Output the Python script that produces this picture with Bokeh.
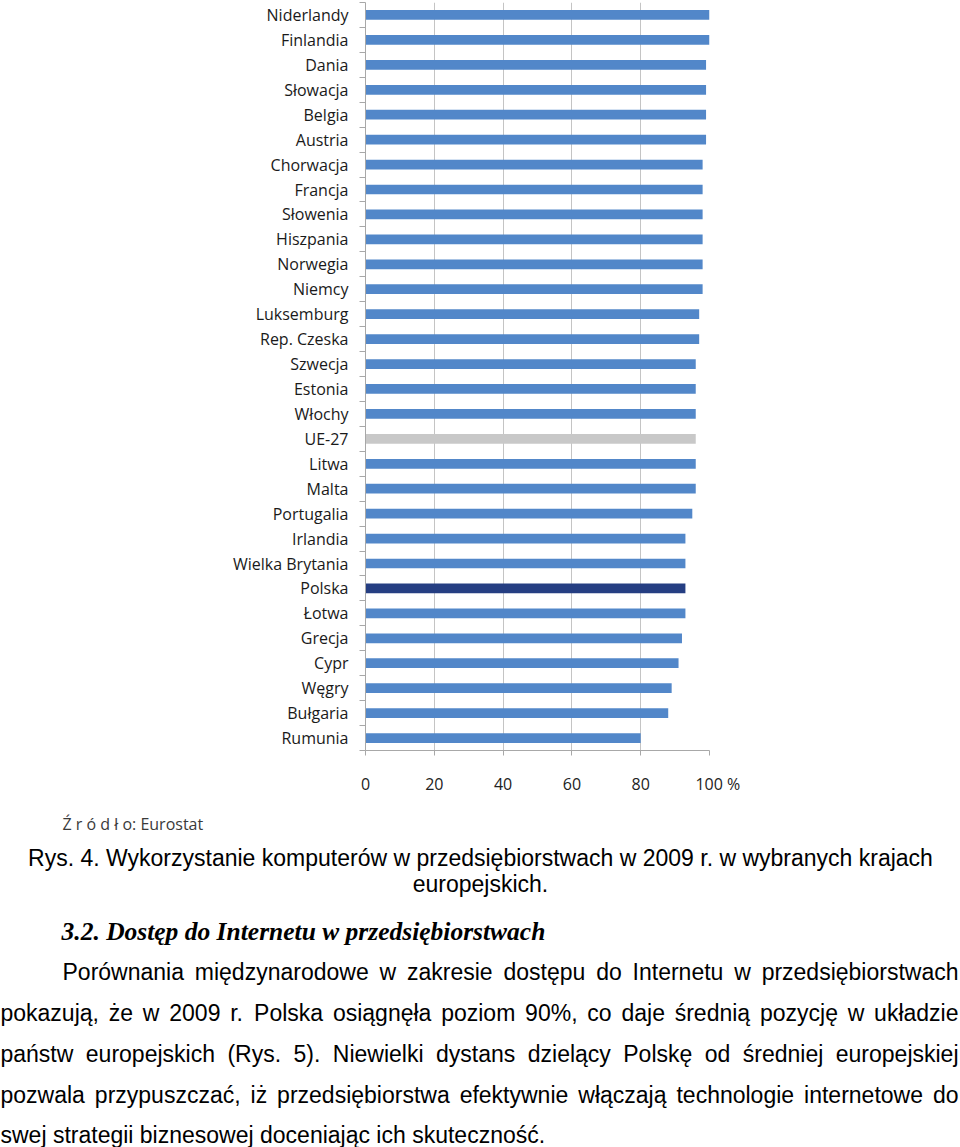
from bokeh.plotting import figure
from bokeh.models import ColumnDataSource, Range1d, FixedTicker, Label
from bokeh.layouts import column
from bokeh.embed import file_html
from bokeh.resources import INLINE
from bokeh.core.properties import value

# ---------------- data ----------------
countries = ["Niderlandy", "Finlandia", "Dania", "Słowacja", "Belgia", "Austria",
             "Chorwacja", "Francja", "Słowenia", "Hiszpania", "Norwegia", "Niemcy",
             "Luksemburg", "Rep. Czeska", "Szwecja", "Estonia", "Włochy", "UE-27",
             "Litwa", "Malta", "Portugalia", "Irlandia", "Wielka Brytania", "Polska",
             "Łotwa", "Grecja", "Cypr", "Węgry", "Bułgaria", "Rumunia"]
values = [100, 100, 99, 99, 99, 99,
          98, 98, 98, 98, 98, 98,
          97, 97, 96, 96, 96, 96,
          96, 96, 95, 93, 93, 93,
          93, 92, 91, 89, 88, 80]
x_ticks = [0, 20, 40, 60, 80, 100]
x_tick_labels = {0: "0", 20: "20", 40: "40", 60: "60", 80: "80",
                 100: "\u00a0\u00a0\u00a0\u00a0100\u00a0%"}
highlight = {"UE-27": "#C8C8C8", "Polska": "#253E82"}
base_color = "#5287C9"

source_text = "Ź r ó d ł o: Eurostat"
caption_lines = ["Rys. 4. Wykorzystanie komputerów w przedsiębiorstwach w 2009 r. w wybranych krajach",
                 "europejskich."]
heading = "3.2. Dostęp do Internetu w przedsiębiorstwach"
paragraph_lines = [
    "Porównania międzynarodowe w zakresie dostępu do Internetu w przedsiębiorstwach",
    "pokazują, że w 2009 r. Polska osiągnęła poziom 90%, co daje średnią pozycję w układzie",
    "państw europejskich (Rys. 5). Niewielki dystans dzielący Polskę od średniej europejskiej",
    "pozwala przypuszczać, iż przedsiębiorstwa efektywnie włączają technologie internetowe do",
    "swej strategii biznesowej doceniając ich skuteczność.",
]

# ---------------- chart ----------------
n = len(countries)
ypos = [n - 1 - i for i in range(n)]
colors = [highlight.get(c, base_color) for c in countries]
src = ColumnDataSource(dict(y=ypos, v=values, c=colors, name=countries))

W = 960
CH = 800
p = figure(width=W, height=CH, x_range=Range1d(0, 100), y_range=Range1d(-0.5, n - 0.5),
           output_backend="svg", toolbar_location=None,
           min_border_left=365, min_border_right=251, min_border_top=2, min_border_bottom=50)
p.frame_align = False
p.outline_line_color = None
p.hbar(y="y", left=0, right="v", height=0.39, fill_color="c", line_color=None, source=src)

lab_font = "Open Sans"
p.xaxis.ticker = FixedTicker(ticks=x_ticks)
p.xaxis.major_label_overrides = x_tick_labels
p.xaxis.major_tick_out = 5
p.xaxis.major_tick_in = 0
p.xaxis.minor_tick_out = 0
p.xaxis.minor_tick_in = 0
p.xaxis.axis_line_color = "#A8A8A8"
p.xaxis.major_tick_line_color = "#A8A8A8"
p.xaxis.major_label_standoff = 17
p.xaxis.major_label_text_font = lab_font
p.xaxis.major_label_text_font_size = "16px"
p.xaxis.major_label_text_color = "#222222"

p.yaxis.ticker = FixedTicker(ticks=ypos, minor_ticks=[i - 0.5 for i in range(n + 1)])
p.yaxis.major_label_overrides = {y: c for y, c in zip(ypos, countries)}
p.yaxis.major_tick_out = 0
p.yaxis.major_tick_in = 0
p.yaxis.minor_tick_out = 6
p.yaxis.minor_tick_in = 0
p.yaxis.axis_line_color = "#A8A8A8"
p.yaxis.minor_tick_line_color = "#A8A8A8"
p.yaxis.major_label_standoff = 11
p.yaxis.major_label_text_font = lab_font
p.yaxis.major_label_text_font_size = "16px"
p.yaxis.major_label_text_color = "#1A1A1A"

p.ygrid.visible = False
p.xgrid.ticker = FixedTicker(ticks=x_ticks)
p.xgrid.grid_line_color = "#C4C4C4"
p.xgrid.grid_line_width = 1

# ---------------- text block ----------------
TOP = CH
TH = 1147 - CH
t = figure(width=W, height=TH, x_range=Range1d(0, W), y_range=Range1d(TOP + TH, TOP),
           output_backend="svg", toolbar_location=None, min_border=0,
           x_axis_location=None, y_axis_location=None)
t.frame_align = False
t.grid.visible = False
t.outline_line_color = None
t.min_border_left = t.min_border_right = t.min_border_top = t.min_border_bottom = 0

t.add_layout(Label(x=62, y=823, text=source_text, text_align="left", text_baseline="middle",
                   text_font="Open Sans", text_font_size="16px", text_color="#3A3A3A"))

cap_src = ColumnDataSource(dict(x=[480, 480], y=[857, 883], t=caption_lines))
t.text(x="x", y="y", text="t", source=cap_src, text_align="center", text_baseline="middle",
       text_font=value("Liberation Sans"), text_font_size=value("23px"), text_color="#000000")

t.add_layout(Label(x=61, y=931, text=heading, text_align="left", text_baseline="middle",
                   text_font="Liberation Serif", text_font_style="bold italic",
                   text_font_size="25.5px", text_color="#000000"))

# justified paragraph (Arial / Liberation Sans metrics, per 1000 em)
AW = {" ": 278, "a": 556, "b": 556, "c": 500, "d": 556, "e": 556, "f": 278, "g": 556,
      "h": 556, "i": 222, "j": 222, "k": 500, "l": 222, "m": 833, "n": 556, "o": 556,
      "p": 556, "q": 556, "r": 333, "s": 500, "t": 278, "u": 556, "v": 500, "w": 722,
      "x": 500, "y": 500, "z": 500, "ą": 556, "ę": 556, "ó": 556, "ś": 500, "ć": 500,
      "ż": 500, "ł": 222, "ń": 556, "ź": 500, "P": 667, "R": 722, "N": 722, "I": 278,
      "W": 944, ".": 278, ",": 278, "(": 333, ")": 333, "%": 889}
FS = 23.0

def wwidth(s):
    return sum(AW.get(ch, 556) for ch in s) * FS / 1000.0

para_y = [971, 1012, 1053, 1094, 1134]
para_left = [62, 0, 0, 0, 0]
RIGHT = 958
lx, ly, lt, rx, ry, rt = [], [], [], [], [], []
for k, line in enumerate(paragraph_lines):
    words = line.split(" ")
    left = para_left[k]
    if k == len(paragraph_lines) - 1:
        lx.append(left); ly.append(para_y[k]); lt.append(line)
        continue
    ws = [wwidth(w) for w in words]
    gap = (RIGHT - left - sum(ws)) / (len(words) - 1)
    x = left
    for i, w in enumerate(words):
        if i == len(words) - 1:
            rx.append(RIGHT); ry.append(para_y[k]); rt.append(w)
        else:
            lx.append(x); ly.append(para_y[k]); lt.append(w)
        x += ws[i] + gap

t.text(x="x", y="y", text="t", source=ColumnDataSource(dict(x=lx, y=ly, t=lt)),
       text_align="left", text_baseline="middle",
       text_font=value("Liberation Sans"), text_font_size=value("23px"), text_color="#000000")
t.text(x="x", y="y", text="t", source=ColumnDataSource(dict(x=rx, y=ry, t=rt)),
       text_align="right", text_baseline="middle",
       text_font=value("Liberation Sans"), text_font_size=value("23px"), text_color="#000000")

layout = column(p, t, spacing=0)
open("out.html", "w").write(file_html(layout, INLINE))
